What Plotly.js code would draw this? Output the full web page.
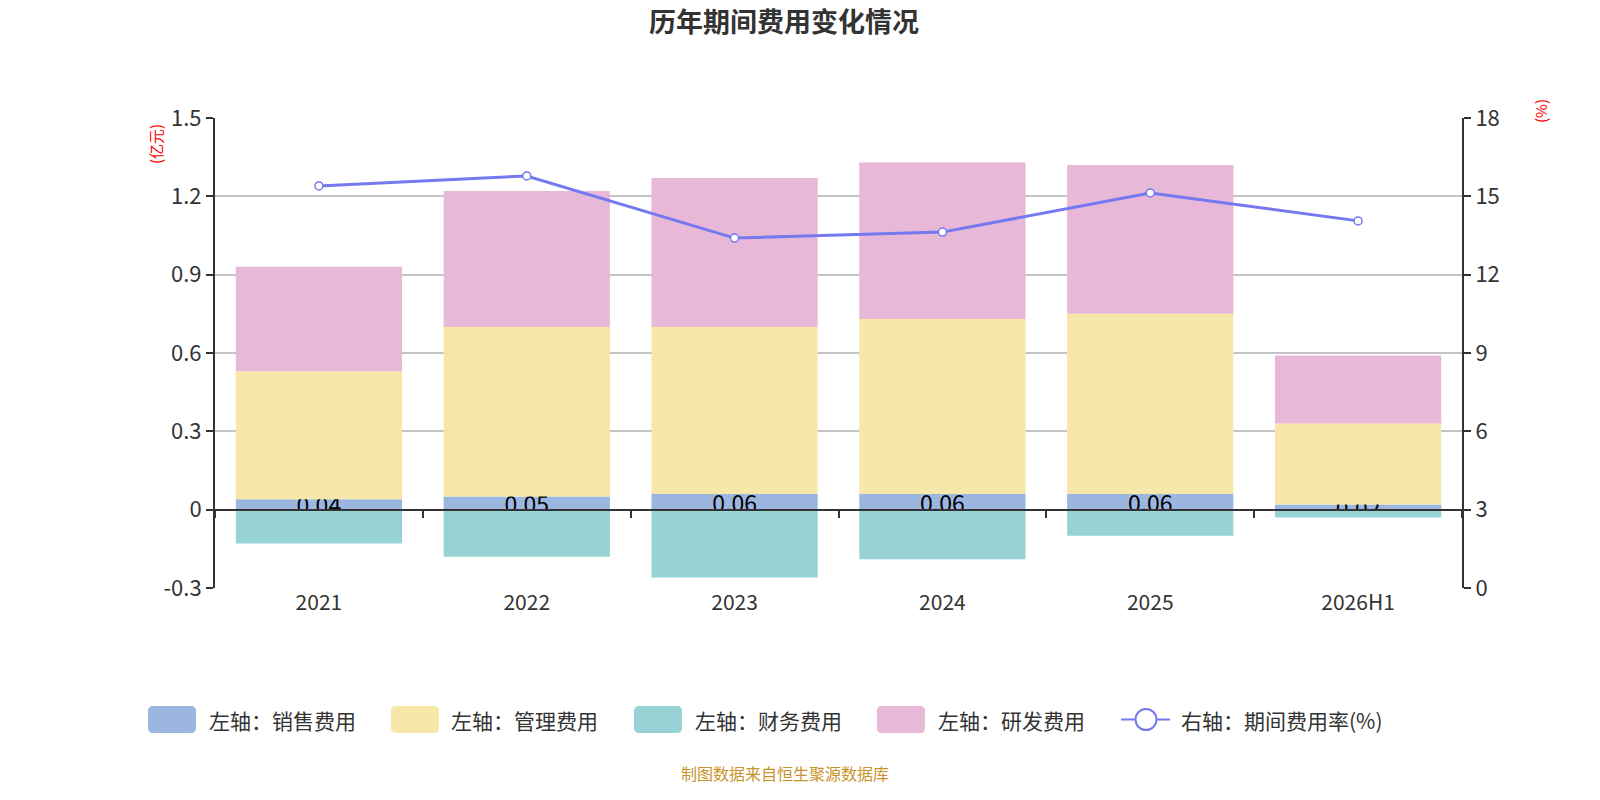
<!DOCTYPE html>
<html>
<head>
<meta charset="utf-8">
<script src="https://cdn.plot.ly/plotly-3.0.1.min.js"></script>
<style>html,body{margin:0;padding:0;background:#fff;}#chart{width:1600px;height:800px;}</style>
</head>
<body>
<div id="chart"></div>
<script>
const categories = ['2021', '2022', '2023', '2024', '2025', '2026H1'];
const salesExp = [0.04, 0.05, 0.06, 0.06, 0.06, 0.02];
const adminExp = [0.49, 0.65, 0.64, 0.67, 0.69, 0.31];
const financeExp = [-0.13, -0.18, -0.26, -0.19, -0.10, -0.03];
const rdExp = [0.40, 0.52, 0.57, 0.60, 0.57, 0.26];
const expenseRate = [15.40, 15.78, 13.40, 13.63, 15.13, 14.06];
const leftTicks = [-0.3, 0, 0.3, 0.6, 0.9, 1.2, 1.5];
const rightTicks = [0, 3, 6, 9, 12, 15, 18];
const seriesNames = ['左轴：销售费用', '左轴：管理费用', '左轴：财务费用', '左轴：研发费用', '右轴：期间费用率(%)'];

const FONT = '"Noto Sans CJK SC", "Noto Sans", sans-serif';
const COLORS = ['#9bb7e0', '#f7e7a9', '#97d3d4', '#e7b8d8', '#7579f0'];

const traces = [
  {type:'bar', name:seriesNames[0], x:categories, y:salesExp, marker:{color:COLORS[0]},
   text:salesExp.map(v=>v.toFixed(2)), textposition:'inside', insidetextanchor:'middle',
   constraintext:'none', textangle:0, textfont:{size:23, color:'#000', family:FONT}, hoverinfo:'x+y'},
  {type:'bar', name:seriesNames[1], x:categories, y:adminExp, marker:{color:COLORS[1]}, hoverinfo:'x+y'},
  {type:'bar', name:seriesNames[2], x:categories, y:financeExp, marker:{color:COLORS[2]}, hoverinfo:'x+y'},
  {type:'bar', name:seriesNames[3], x:categories, y:rdExp, marker:{color:COLORS[3]}, hoverinfo:'x+y'},
  {type:'scatter', mode:'lines+markers', name:seriesNames[4], x:categories, y:expenseRate, yaxis:'y2',
   line:{color:COLORS[4], width:3}, marker:{size:8, color:'#fff', line:{color:COLORS[4], width:1.5}}}
];
traces.push({type:'scatter', x:categories, y:categories.map(()=>null), xaxis:'x2', showlegend:false, hoverinfo:'skip'});

const M = {l:215, r:138, t:118, b:212};
const PW = 1600 - M.l - M.r, PH = 800 - M.t - M.b;
const px = x => (x - M.l) / PW;
const py = y => (800 - M.b - y) / PH;

const zeroFrac = (0 - leftTicks[0]) / (leftTicks[leftTicks.length-1] - leftTicks[0]);

// custom legend (layout only)
const legSwatchX = [148, 391, 634, 877];
const legTextX = [207, 449, 693, 936, 1179];
const legY = 719.5;
const shapes = [];
function roundRect(x0, y0, x1, y1, r) {
  const X0 = px(x0), X1 = px(x1), Y0 = py(y0), Y1 = py(y1);
  const rx = r / PW, ry = r / PH;
  return `M ${X0+rx},${Y0} L ${X1-rx},${Y0} Q ${X1},${Y0} ${X1},${Y0-ry} L ${X1},${Y1+ry} Q ${X1},${Y1} ${X1-rx},${Y1} L ${X0+rx},${Y1} Q ${X0},${Y1} ${X0},${Y1+ry} L ${X0},${Y0-ry} Q ${X0},${Y0} ${X0+rx},${Y0} Z`;
}
legSwatchX.forEach((x, i) => {
  shapes.push({type:'path', xref:'paper', yref:'paper', path:roundRect(x, legY-13.5, x+48, legY+13.5, 5),
    fillcolor:COLORS[i], line:{width:0}});
});
shapes.push({type:'line', xref:'paper', yref:'paper', x0:px(1121), x1:px(1170), y0:py(legY), y1:py(legY), line:{color:COLORS[4], width:2}});
shapes.push({type:'circle', xref:'paper', yref:'paper', x0:px(1135.5), x1:px(1156.5), y0:py(legY-10.5), y1:py(legY+10.5),
  fillcolor:'#fff', line:{color:COLORS[4], width:2}});

const annotations = [
  {text:'(亿元)', xref:'paper', yref:'paper', x:px(155), y:py(122), xanchor:'center', yanchor:'top', textangle:-90, showarrow:false, font:{size:15, color:'#ff0000'}},
  {text:'(%)', xref:'paper', yref:'paper', x:px(1540), y:py(97), xanchor:'center', yanchor:'top', textangle:-90, showarrow:false, font:{size:15, color:'#ff0000'}},
  {text:'制图数据来自恒生聚源数据库', xref:'paper', yref:'paper', x:px(785), y:py(773), xanchor:'center', yanchor:'middle', showarrow:false, font:{size:16, color:'#c8932a'}}
];
seriesNames.forEach((n, i) => {
  annotations.push({text:n, xref:'paper', yref:'paper', x:px(legTextX[i]), y:py(legY), xanchor:'left', yanchor:'middle', showarrow:false, font:{size:21, color:'#333'}});
});

const layout = {
  width:1600, height:800,
  paper_bgcolor:'#fff', plot_bgcolor:'#fff',
  margin:{l:M.l, r:M.r, t:M.t, b:M.b, autoexpand:false},
  font:{family:FONT, color:'#333'},
  barmode:'relative', bargap:0.2,
  title:{text:'<b>历年期间费用变化情况</b>', x:0.49, xanchor:'center', y:0.972, yanchor:'middle', font:{size:27, color:'#333', family:FONT}},
  showlegend:false,
  xaxis:{type:'category', showgrid:false, showline:false, ticks:'', tickfont:{size:21, color:'#333'}, zeroline:false, fixedrange:true},
  xaxis2:{type:'category', overlaying:'x', matches:'x', anchor:'free', position:zeroFrac, showline:true, linecolor:'#333', linewidth:2,
    ticks:'outside', tickson:'boundaries', ticklen:7, tickcolor:'#333', tickwidth:2, showticklabels:false, showgrid:false, zeroline:false},
  yaxis:{range:[leftTicks[0], leftTicks[leftTicks.length-1]], tickvals:leftTicks, ticktext:leftTicks.map(v=>String(v)),
    showgrid:true, gridcolor:'#c4c4c4', gridwidth:1.5, zeroline:false, showline:true, linecolor:'#333', linewidth:2,
    ticks:'outside', ticklen:7, tickcolor:'#333', tickwidth:2, tickfont:{size:22, color:'#333'}},
  yaxis2:{overlaying:'y', side:'right', range:[rightTicks[0], rightTicks[rightTicks.length-1]], tickvals:rightTicks,
    showgrid:false, zeroline:false, showline:true, linecolor:'#333', linewidth:2,
    ticks:'outside', ticklen:7, tickcolor:'#333', tickwidth:2, tickfont:{size:22, color:'#333'}},
  shapes:shapes,
  annotations:annotations
};

Plotly.newPlot('chart', traces, layout, {displayModeBar:false, responsive:false});
</script>
</body>
</html>
